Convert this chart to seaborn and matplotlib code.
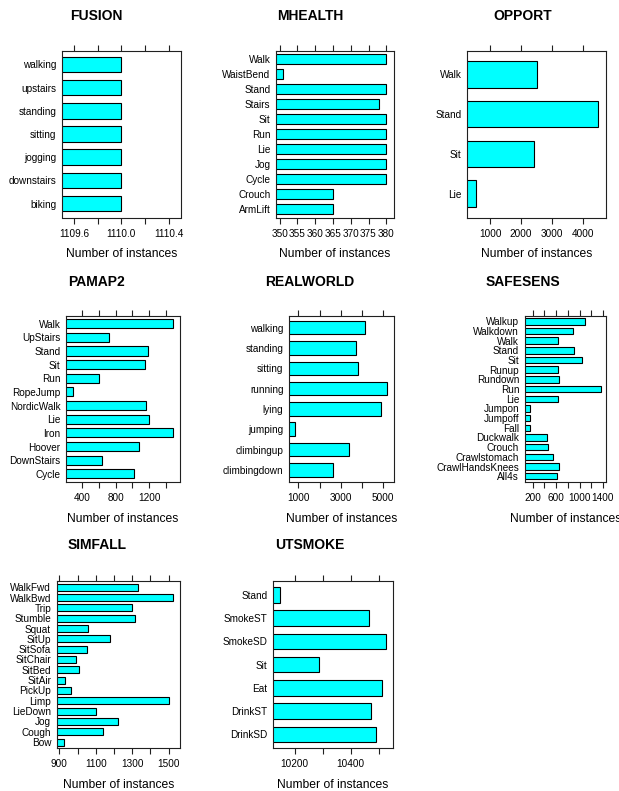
import numpy as np
import matplotlib
matplotlib.use("Agg")
import matplotlib.pyplot as plt
import seaborn as sns

# ---------------------------
# Data (categories listed top -> bottom)
# ---------------------------
fusion_cats = ["walking", "upstairs", "standing", "sitting", "jogging", "downstairs", "biking"]
fusion_vals = [1110, 1110, 1110, 1110, 1110, 1110, 1110]

mhealth_cats = ["Walk", "WaistBend", "Stand", "Stairs", "Sit", "Run", "Lie", "Jog",
                "Cycle", "Crouch", "ArmLift"]
mhealth_vals = [380, 351, 380, 378, 380, 380, 380, 380, 380, 365, 365]

opport_cats = ["Walk", "Stand", "Sit", "Lie"]
opport_vals = [2508, 4491, 2430, 525]

pamap2_cats = ["Walk", "UpStairs", "Stand", "Sit", "Run", "RopeJump", "NordicWalk",
               "Lie", "Iron", "Hoover", "DownStairs", "Cycle"]
pamap2_vals = [1483, 728, 1180, 1143, 605, 297, 1163, 1191, 1483, 1072, 645, 1017]

realworld_cats = ["walking", "standing", "sitting", "running", "lying", "jumping",
                  "climbingup", "climbingdown"]
realworld_vals = [4142, 3714, 3826, 5208, 4904, 857, 3380, 2638]

safesens_cats = ["Walkup", "Walkdown", "Walk", "Stand", "Sit", "Runup", "Rundown", "Run",
                 "Lie", "Jumpon", "Jumpoff", "Fall", "Duckwalk", "Crouch", "Crawlstomach",
                 "CrawlHandsKnees", "All4s"]
safesens_vals = [1095, 884, 635, 906, 1042, 624, 647, 1372, 635, 159, 159, 149, 438, 466,
                 540, 653, 619]

simfall_cats = ["WalkFwd", "WalkBwd", "Trip", "Stumble", "Squat", "SitUp", "SitSofa",
                "SitChair", "SitBed", "SitAir", "PickUp", "Limp", "LieDown", "Jog",
                "Cough", "Bow"]
simfall_vals = [1333, 1522, 1297, 1317, 1055, 1180, 1049, 993, 1007, 933, 965, 1504,
                1102, 1224, 1140, 927]

utsmoke_cats = ["Stand", "SmokeST", "SmokeSD", "Sit", "Eat", "DrinkST", "DrinkSD"]
utsmoke_vals = [10149, 10467, 10526, 10287, 10511, 10472, 10492]

titles = ["FUSION", "MHEALTH", "OPPORT", "PAMAP2", "REALWORLD", "SAFESENS",
          "SIMFALL", "UTSMOKE"]
panels = [(fusion_cats, fusion_vals), (mhealth_cats, mhealth_vals),
          (opport_cats, opport_vals), (pamap2_cats, pamap2_vals),
          (realworld_cats, realworld_vals), (safesens_cats, safesens_vals),
          (simfall_cats, simfall_vals), (utsmoke_cats, utsmoke_vals)]

# tick step, label every n-th tick, label format
tick_specs = [(0.2, 2, "{:.1f}"), (5, 1, "{:.0f}"), (1000, 1, "{:.0f}"),
              (200, 2, "{:.0f}"), (1000, 2, "{:.0f}"), (200, 2, "{:.0f}"),
              (100, 2, "{:.0f}"), (100, 2, "{:.0f}")]
label_starts = [1109.6, 350, 1000, 400, 1000, 200, 900, 10200]

# ---------------------------
# Layout (pixel boxes: left, right) per panel, rows share top/bottom
# ---------------------------
W, H = 619, 791
lefts = [62, 276, 467, 66, 289, 524.7, 56.7, 273]
rights = [180.5, 393.5, 606.3, 180.3, 393.7, 606.3, 180.3, 393.3]
row_tops = [50.5, 315.5, 581]
row_bottoms = [217.5, 482, 748.3]
title_x = [96.7, 310, 523]
title_y = [16, 281.7, 545]

sns.set_style("white")
plt.rcParams["font.family"] = ["Liberation Sans", "DejaVu Sans"]
plt.rcParams["text.color"] = "black"
plt.rcParams["axes.labelcolor"] = "black"
plt.rcParams["xtick.color"] = "black"
plt.rcParams["ytick.color"] = "black"

fig = plt.figure(figsize=(W / 100, H / 100), dpi=100)
edge = "#202020"

for i, (title, (cats, vals)) in enumerate(zip(titles, panels)):
    row, col = divmod(i, 3)
    l, r = lefts[i], rights[i]
    t, b = row_tops[row], row_bottoms[row]
    ax = fig.add_axes([l / W, 1 - b / H, (r - l) / W, (b - t) / H])

    sns.barplot(x=vals, y=cats, orient="h", color="#00FFFF", saturation=1,
                edgecolor="black", linewidth=0.8, width=2 / 3, ax=ax)

    lo, hi = min(vals), max(vals)
    pad = 0.07 * (hi - lo) if hi > lo else 0.5
    ax.set_xlim(lo - pad, hi + pad)
    ax.set_ylim(len(cats) - 0.4, -0.6)

    step, every, fmt = tick_specs[i]
    first = np.ceil((lo - pad) / step - 1e-9) * step
    ticks = np.arange(first, hi + pad + 1e-9, step)
    ax.set_xticks(ticks)
    labs = []
    for tk in ticks:
        k = round((tk - label_starts[i]) / step)
        labs.append(fmt.format(tk) if (k >= 0 and k % every == 0) else "")
    ax.set_xticklabels(labs)

    ax.tick_params(axis="x", top=True, bottom=True, direction="out", length=4,
                   width=0.8, color=edge, labelsize=7.2, pad=4, labelcolor="black")
    ax.tick_params(axis="y", left=False, length=0, labelsize=7.2, pad=4,
                   labelcolor="black")
    for sp in ax.spines.values():
        sp.set_visible(True)
        sp.set_color(edge)
        sp.set_linewidth(0.8)
    ax.set_ylabel("")
    ax.set_xlabel("Number of instances", fontsize=8.7, labelpad=7, color="black")

    fig.text(title_x[col] / W, 1 - title_y[row] / H, title, ha="center", va="center",
             fontsize=10, fontweight="bold", color="black")

fig.savefig("out.png", dpi=100)
